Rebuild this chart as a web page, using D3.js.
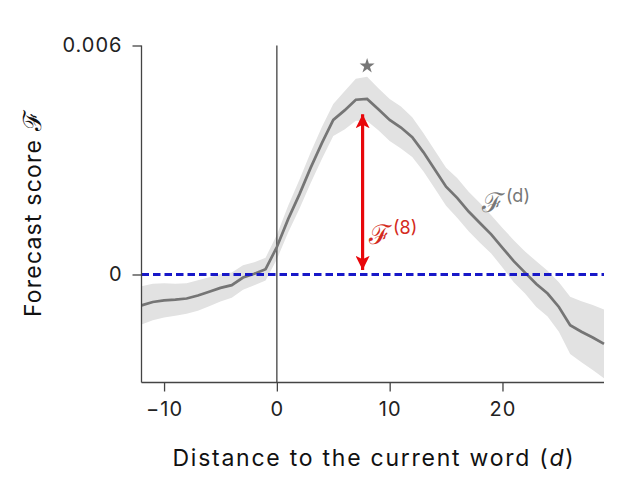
<!DOCTYPE html>
<html><head><meta charset="utf-8">
<script src="https://cdn.jsdelivr.net/npm/d3@7"></script>
<style>
html,body{margin:0;padding:0;background:#fff;}
svg text{font-family:Inter,"Noto Sans",sans-serif;}
</style></head>
<body>
<svg id="c" width="617" height="483"></svg>
<script>
const distances = d3.range(-12, 30);
const meanScore = [-0.81,-0.72,-0.68,-0.66,-0.63,-0.55,-0.45,-0.35,-0.28,-0.08,0.02,0.14,0.72,
  1.45,2.1,2.8,3.45,4.05,4.3,4.58,4.6,4.33,4.05,3.85,3.6,3.2,2.75,2.3,2.0,1.65,1.35,1.05,0.7,0.35,0.05,-0.25,-0.5,-0.85,-1.33,-1.5,-1.65,-1.82].map(v=>v*1e-3);
const semScore = [0.5,0.48,0.45,0.42,0.4,0.4,0.38,0.36,0.33,0.32,0.3,0.3,0.32,
  0.35,0.38,0.4,0.42,0.42,0.5,0.55,0.58,0.55,0.55,0.55,0.52,0.5,0.5,0.5,0.52,0.52,0.52,0.5,0.52,0.55,0.55,0.6,0.6,0.65,0.75,0.8,0.85,0.9].map(v=>v*1e-3);
const xTicks = [-10, 0, 10, 20];
const yTicks = [0, 0.006];
const yTickLabels = ["0", "0.006"];
const peakD = 8;
const arrowD = 7.6;
const arrowTop = 0.0042;

const svg = d3.select("#c");
const x = d3.scaleLinear().domain([-12, 29]).range([141.5, 604]);
const y = d3.scaleLinear().domain([-0.00283, 0.006]).range([382.5, 45.5]);
const data = distances.map((d,i)=>({d, m:meanScore[i], s:semScore[i]}));

// band
svg.append("path").datum(data)
  .attr("fill","#e2e2e2")
  .attr("d", d3.area().x(p=>x(p.d)).y0(p=>y(p.m-p.s)).y1(p=>y(p.m+p.s)));

// vertical zero line
svg.append("line").attr("x1",x(0)).attr("x2",x(0)).attr("y1",y(0.006)).attr("y2",y.range()[0])
  .attr("stroke","#333").attr("stroke-width",1.2);

// mean line
svg.append("path").datum(data)
  .attr("fill","none").attr("stroke","#757575").attr("stroke-width",2.7)
  .attr("d", d3.line().x(p=>x(p.d)).y(p=>y(p.m)));

// zero dashed line
svg.append("line").attr("x1",x(-12)).attr("x2",x(29)).attr("y1",y(0)).attr("y2",y(0))
  .attr("stroke","#1818c8").attr("stroke-width",3).attr("stroke-dasharray","7.5,4");

// axes
const gx = svg.append("g").attr("transform",`translate(0,${y.range()[0]})`)
  .call(d3.axisBottom(x).tickValues(xTicks).tickSize(9).tickPadding(10)
    .tickFormat(d=> d<0 ? "\u2212"+Math.abs(d) : d));
const gy = svg.append("g").attr("transform",`translate(${x(-12)},0)`)
  .call(d3.axisLeft(y).tickValues(yTicks).tickSize(9).tickPadding(10)
    .tickFormat((d,i)=>yTickLabels[i]));
[gx,gy].forEach(g=>{
  g.select(".domain").attr("stroke","#444").attr("stroke-width",1.3);
  g.selectAll(".tick line").attr("stroke","#444").attr("stroke-width",1.3);
  g.selectAll(".tick text").attr("font-size",20).attr("fill","#222").attr("letter-spacing",1);
});
gy.select(".domain").attr("d",`M-0,${y(0.006)}V${y.range()[0]}`);
gx.select(".domain").attr("d",`M${x(-12)},0H${x(29)}`);

// red arrow
const defs = svg.append("defs");
defs.append("marker").attr("id","ah").attr("viewBox","0 0 10 10").attr("refX",10).attr("refY",5)
  .attr("markerWidth",4.4).attr("markerHeight",4.4).attr("orient","auto-start-reverse")
  .attr("markerUnits","strokeWidth")
  .append("path").attr("d","M0,0L10,5L0,10L2.5,5Z").attr("fill","#e8070b");
svg.append("line").attr("x1",x(arrowD)).attr("x2",x(arrowD))
  .attr("y1",y(0.00012)).attr("y2",y(arrowTop))
  .attr("stroke","#e8070b").attr("stroke-width",3.2)
  .attr("marker-start","url(#ah)").attr("marker-end","url(#ah)");

// labels
const lab1 = svg.append("text").attr("x",369).attr("y",244).attr("fill","#d42a20");
lab1.append("tspan").text("\u2131").attr("font-size",27).attr("font-family","DejaVu Serif");
lab1.append("tspan").text("(8)").attr("font-size",18).attr("dx",2).attr("dy",-10);

const lab2 = svg.append("text").attr("x",482).attr("y",212).attr("fill","#777");
lab2.append("tspan").text("\u2131").attr("font-size",27).attr("font-family","DejaVu Serif");
lab2.append("tspan").text("(d)").attr("font-size",18).attr("dx",2).attr("dy",-10);

// star
svg.append("path").attr("d", d3.symbol().type(d3.symbolStar).size(70)())
  .attr("transform",`translate(${x(peakD)},${66})`).attr("fill","#777");

// axis titles
const xt = svg.append("text").attr("x",374).attr("y",466).attr("text-anchor","middle")
  .attr("font-size",23).attr("fill","#111").attr("letter-spacing",1.75);
xt.append("tspan").text("Distance to the current word (");
xt.append("tspan").text("d").attr("font-style","italic");
xt.append("tspan").text(")");

const yt = svg.append("text").attr("transform","translate(41,213) rotate(-90)").attr("text-anchor","middle")
  .attr("font-size",23).attr("fill","#111").attr("letter-spacing",1.2);
yt.append("tspan").text("Forecast score ");
yt.append("tspan").text("\u2131").attr("font-size",25).attr("font-family","DejaVu Serif");
</script>
</body></html>
